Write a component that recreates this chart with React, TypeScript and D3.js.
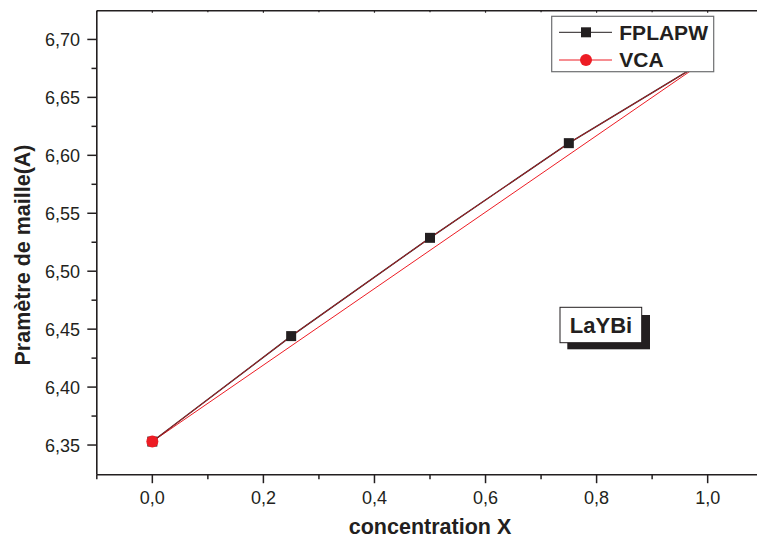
import React from "react";
import * as d3 from "d3";

const concentrations = [0, 0.25, 0.5, 0.75, 1.0];
const fplapwValues = [6.353, 6.444, 6.5288, 6.6105, 6.683];
const vcaX = [0, 1.0];
const vcaValues = [6.353, 6.683];
const yMajorTicks = [6.35, 6.4, 6.45, 6.5, 6.55, 6.6, 6.65, 6.7];
const yMinorTicks = [6.375, 6.425, 6.475, 6.525, 6.575, 6.625, 6.675];
const xMajorTicks = [0, 0.2, 0.4, 0.6, 0.8, 1.0];
const xMinorTicks = [-0.1, 0.1, 0.3, 0.5, 0.7, 0.9];
const seriesNames = ["FPLAPW", "VCA"];

const fmt = (v: number, d: number) => v.toFixed(d).replace(".", ",");

export default function App() {
  const W = 757, H = 540;
  const x = d3.scaleLinear().domain([-0.1, 1.1]).range([96.8, 763.2]);
  const y = d3.scaleLinear().domain([6.3244, 6.7248]).range([474.7, 10.7]);
  const left = x(-0.1), bottom = y(6.3244), top = y(6.7248);
  const axisColor = "#231f20";
  const red = "#ed1c24";
  const line = d3.line<[number, number]>().x(d => x(d[0])).y(d => y(d[1]));
  const fpl: [number, number][] = concentrations.map((c, i) => [c, fplapwValues[i]]);
  const vca: [number, number][] = vcaX.map((c, i) => [c, vcaValues[i]]);
  const font = "'Liberation Sans', Arial, sans-serif";

  return (
    <svg width={W} height={H} style={{ position: "absolute", left: 0, top: 0, background: "#fff" }} fontFamily={font}>
      <rect x={0} y={0} width={W} height={H} fill="#fff" />
      {/* lines */}
      <path d={line(vca) || ""} fill="none" stroke={red} strokeWidth={1} />
      <path d={line(fpl) || ""} fill="none" stroke={axisColor} strokeWidth={1.4} />
      <path d={line(fpl) || ""} fill="none" stroke={red} strokeWidth={0.8} strokeOpacity={0.85} />
      {fpl.map((d, i) => (
        <rect key={"s" + i} x={x(d[0]) - 5} y={y(d[1]) - 5} width={10} height={10} fill={axisColor} />
      ))}
      {vca.map((d, i) => (
        <circle key={"c" + i} cx={x(d[0])} cy={y(d[1])} r={6} fill={red} />
      ))}
      {/* axes */}
      <line x1={left} x2={W} y1={bottom} y2={bottom} stroke={axisColor} strokeWidth={1.6} />
      <line x1={left} x2={W} y1={top} y2={top} stroke={axisColor} strokeWidth={1.6} />
      <line x1={left} x2={left} y1={top} y2={bottom} stroke={axisColor} strokeWidth={1.6} />
      {yMajorTicks.map(t => (
        <g key={"ym" + t}>
          <line x1={left - 9.5} x2={left} y1={y(t)} y2={y(t)} stroke={axisColor} strokeWidth={1.5} />
          <text x={80} y={y(t)} dy="0.36em" textAnchor="end" fontSize={18} fill="#231f20">{fmt(t, 2)}</text>
        </g>
      ))}
      {yMinorTicks.map(t => (
        <line key={"yn" + t} x1={left - 5.3} x2={left} y1={y(t)} y2={y(t)} stroke={axisColor} strokeWidth={1.5} />
      ))}
      {xMajorTicks.map(t => (
        <g key={"xm" + t}>
          <line x1={x(t)} x2={x(t)} y1={bottom} y2={bottom + 8.5} stroke={axisColor} strokeWidth={1.5} />
          <line x1={x(t)} x2={x(t)} y1={top} y2={top + 2} stroke={axisColor} strokeWidth={1.2} />
          <text x={x(t)} y={503.5} textAnchor="middle" fontSize={18} fill="#231f20">{fmt(t, 1)}</text>
        </g>
      ))}
      {xMinorTicks.map(t => (
        <g key={"xn" + t}>
          <line x1={x(t)} x2={x(t)} y1={bottom} y2={bottom + 4.5} stroke={axisColor} strokeWidth={1.5} />
          <line x1={x(t)} x2={x(t)} y1={top} y2={top + 1.5} stroke={axisColor} strokeWidth={1.2} />
        </g>
      ))}
      {/* axis titles */}
      <text x={430} y={534} textAnchor="middle" fontSize={21.5} fontWeight="bold" fill="#231f20">concentration X</text>
      <text transform={`translate(29.5,255) rotate(-90)`} textAnchor="middle" fontSize={21.5} fontWeight="bold" fill="#231f20">Pramètre de maille(A)</text>
      {/* legend */}
      <rect x={551.7} y={16.3} width={162} height={55.4} fill="#fff" stroke="#6d6e71" strokeWidth={1.2} />
      <line x1={559} x2={612} y1={32.3} y2={32.3} stroke={axisColor} strokeWidth={1} />
      <rect x={581} y={27.3} width={10} height={10} fill={axisColor} />
      <text x={619.3} y={39.5} fontSize={21} fontWeight="bold" fill="#231f20">{seriesNames[0]}</text>
      <line x1={559} x2={612} y1={60} y2={60} stroke={red} strokeWidth={1} />
      <circle cx={586} cy={60} r={6} fill={red} />
      <text x={619.3} y={67} fontSize={21} fontWeight="bold" fill="#231f20">{seriesNames[1]}</text>
      {/* LaYBi label */}
      <rect x={567.3} y={315} width={82.7} height={34.3} fill="#231f20" />
      <rect x={560} y={307.3} width={81.7} height={35.4} fill="#fff" stroke="#231f20" strokeWidth={1} />
      <text x={601} y={332.7} textAnchor="middle" fontSize={22} fontWeight="bold" fill="#231f20">LaYBi</text>
    </svg>
  );
}
